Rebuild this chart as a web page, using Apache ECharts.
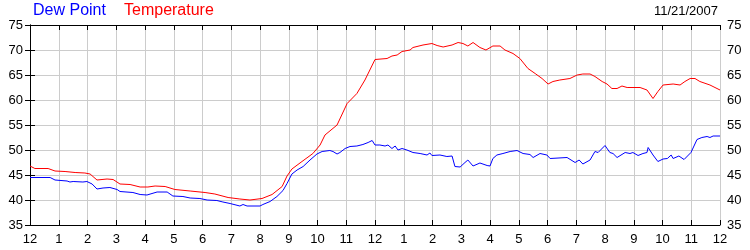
<!DOCTYPE html>
<html>
<head>
<meta charset="utf-8">
<script src="https://cdn.jsdelivr.net/npm/echarts@6/dist/echarts.min.js"></script>
<style>
html,body{margin:0;padding:0;background:#fff;}
#c{width:750px;height:250px;}
</style>
</head>
<body>
<div id="c"></div>
<script>
// hours after midnight
var tempHours = [0.00,0.17,0.63,0.87,1.22,1.57,1.91,2.09,2.33,2.68,2.89,3.13,3.48,3.83,4.10,4.35,4.70,5.04,5.57,6.09,6.43,6.89,7.30,7.65,8.07,8.42,8.77,8.94,9.11,9.46,9.84,10.09,10.26,10.68,11.03,11.37,11.65,12.00,12.42,12.59,12.77,12.94,13.22,13.32,13.67,13.98,14.16,14.37,14.68,14.89,15.06,15.23,15.41,15.65,15.86,16.10,16.35,16.52,16.80,17.04,17.32,17.57,17.81,18.02,18.19,18.43,18.78,19.03,19.23,19.48,19.65,19.90,20.07,20.24,20.42,20.59,20.77,21.22,21.46,21.67,21.84,22.02,22.37,22.61,22.78,22.96,23.13,23.30,23.65,24.00];
var tempVals = [46.8,46.3,46.3,45.8,45.7,45.5,45.4,45.2,44.0,44.2,44.1,43.2,43.1,42.6,42.6,42.8,42.7,42.1,41.8,41.5,41.2,40.5,40.2,40.0,40.3,41.1,42.7,44.8,46.2,47.7,49.3,51.0,53.0,55.0,59.3,61.3,64.0,68.1,68.3,68.8,69.0,69.7,70.0,70.5,71.0,71.3,70.9,70.6,71.0,71.5,71.3,70.8,71.5,70.5,70.0,70.8,70.8,70.0,69.3,68.3,66.3,65.3,64.3,63.2,63.7,64.0,64.3,65.0,65.2,65.2,64.7,63.7,63.2,62.3,62.3,62.8,62.5,62.5,62.0,60.3,61.7,63.0,63.2,63.0,63.7,64.3,64.3,63.7,63.0,62.0];
var dewHours = [0.00,0.70,0.87,1.29,1.39,1.50,1.84,1.98,2.16,2.33,2.54,2.78,3.03,3.13,3.58,3.83,4.07,4.42,4.77,4.97,5.32,5.57,5.91,6.16,6.50,6.71,6.96,7.30,7.41,7.55,8.00,8.10,8.35,8.59,8.80,8.94,9.11,9.29,9.50,9.74,9.98,10.16,10.43,10.54,10.68,10.78,10.96,11.13,11.37,11.58,11.76,11.90,12.00,12.17,12.35,12.45,12.59,12.70,12.80,12.94,13.11,13.32,13.57,13.81,13.91,13.98,14.26,14.50,14.68,14.78,14.96,15.13,15.23,15.41,15.65,15.90,16.00,16.10,16.24,16.45,16.70,16.94,17.15,17.39,17.50,17.74,17.98,18.09,18.68,18.96,19.10,19.23,19.48,19.65,19.76,20.00,20.17,20.28,20.42,20.70,20.87,20.97,21.15,21.32,21.46,21.50,21.67,21.84,22.02,22.17,22.30,22.37,22.57,22.75,22.99,23.20,23.37,23.55,23.65,23.76,24.00];
var dewVals = [44.5,44.5,44.0,43.8,43.6,43.7,43.6,43.7,43.2,42.2,42.4,42.5,42.1,41.7,41.5,41.1,41.0,41.6,41.6,40.8,40.7,40.4,40.3,40.0,39.9,39.6,39.3,38.8,39.1,38.8,38.8,39.1,39.7,40.7,41.9,43.3,45.2,46.0,46.7,48.0,49.2,49.7,49.9,49.7,49.2,49.5,50.3,50.7,50.8,51.1,51.5,51.9,51.0,51.0,50.8,51.0,50.3,50.8,50.0,50.3,50.0,49.5,49.3,49.0,49.4,48.9,49.0,48.7,48.8,46.7,46.6,47.5,48.0,46.8,47.4,46.9,46.8,48.3,49.0,49.3,49.7,49.9,49.3,49.1,48.5,49.3,49.0,48.3,48.5,47.5,48.0,47.2,48.0,49.7,49.5,50.9,49.5,49.3,48.5,49.5,49.3,49.5,48.9,49.3,49.5,50.5,49.0,47.7,48.2,48.3,49.0,48.3,48.8,48.1,49.5,52.1,52.5,52.7,52.5,52.8,52.8];
var hourLabels = ['12','1','2','3','4','5','6','7','8','9','10','11','12','1','2','3','4','5','6','7','8','9','10','11','12'];
var dateText = '11/21/2007';
var legendNames = ['Dew Point', 'Temperature'];

function pairs(xs, ys){ return xs.map(function(x,i){ return [x, ys[i]]; }); }

var FONT = '"Liberation Sans", Arial, sans-serif';
var chart = echarts.init(document.getElementById('c'), null, {renderer:'canvas'});
var yAx = function(pos){
  return {
    type:'value', min:35, max:75, interval:5, position:pos,
    axisLine:{show:true, lineStyle:{color:'#000', width:1}},
    axisTick:{show:true, inside:true, length:5, lineStyle:{color:'#000'}},
    axisLabel:{color:'#000', fontSize:13, fontFamily:FONT, margin:7},
    splitLine:{show:pos==='left', lineStyle:{color:'#cccccc', width:1}}
  };
};
chart.setOption({
  animation:false,
  backgroundColor:'#fff',
  grid:{left:30, right:30, top:25, bottom:25, containLabel:false},
  xAxis:[{
    type:'value', min:0, max:24, interval:1, position:'bottom',
    axisLine:{show:true, lineStyle:{color:'#000', width:1}},
    axisTick:{show:true, inside:true, length:5, lineStyle:{color:'#000'}},
    axisLabel:{color:'#000', fontSize:13, fontFamily:FONT, margin:8,
      formatter:function(v){ return hourLabels[Math.round(v)]; }},
    splitLine:{show:true, lineStyle:{color:'#cccccc', width:1}}
  },{
    type:'value', min:0, max:24, interval:1, position:'top',
    axisLine:{show:true, lineStyle:{color:'#000', width:1}},
    axisTick:{show:true, inside:true, length:5, lineStyle:{color:'#000'}},
    axisLabel:{show:false},
    splitLine:{show:false}
  }],
  yAxis:[yAx('left'), yAx('right')],
  graphic:[
    {type:'text', left:33, top:3, style:{text:legendNames[0], fill:'#0000ff', font:'16px '+FONT}},
    {type:'text', left:124, top:3, style:{text:legendNames[1], fill:'#ff0000', font:'16px '+FONT}},
    {type:'text', right:32, top:5, style:{text:dateText, fill:'#000', font:'13px '+FONT}}
  ],
  series:[
    {name:legendNames[1], type:'line', xAxisIndex:0, yAxisIndex:0, data:pairs(tempHours,tempVals),
     showSymbol:false, lineStyle:{color:'#ff0000', width:1}, itemStyle:{color:'#ff0000'}},
    {name:legendNames[0], type:'line', xAxisIndex:0, yAxisIndex:0, data:pairs(dewHours,dewVals),
     showSymbol:false, lineStyle:{color:'#0000ff', width:1}, itemStyle:{color:'#0000ff'}}
  ]
});
</script>
</body>
</html>
